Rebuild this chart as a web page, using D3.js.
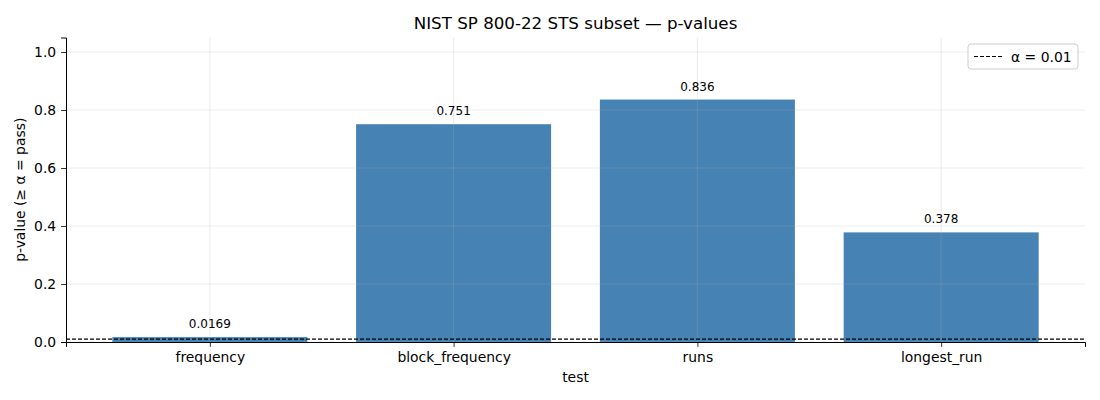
<!DOCTYPE html>
<html>
<head>
<meta charset="utf-8">
<script src="https://cdn.jsdelivr.net/npm/d3@7"></script>
<style>
  body { margin: 0; background: #fff; }
  text { font-family: "DejaVu Sans", sans-serif; }
</style>
</head>
<body>
<div id="chart"></div>
<script>
// data
const tests = ["frequency", "block_frequency", "runs", "longest_run"];
const pvalues = [0.0169, 0.751, 0.836, 0.378];
const pLabels = ["0.0169", "0.751", "0.836", "0.378"];
const yTicks = [0.0, 0.2, 0.4, 0.6, 0.8, 1.0];
const alpha = 0.01;

const W = 1100, H = 400;
const margin = {top: 37.5, right: 15, bottom: 58, left: 66};
const width = W - margin.left - margin.right,
      height = H - margin.top - margin.bottom;

const svg = d3.select("#chart").append("svg")
  .attr("width", W).attr("height", H);

const g = svg.append("g")
  .attr("transform", "translate(" + margin.left + "," + margin.top + ")");

// matplotlib-ish: bars of width 0.8, 5% margins
const x = d3.scaleLinear().domain([-0.59, tests.length - 1 + 0.59]).range([0, width]);
const y = d3.scaleLinear().domain([0, 1.05]).range([height, 0]);
const barW = x(0.8) - x(0);

// bars
g.selectAll("rect.bar")
  .data(pvalues)
  .enter().append("rect")
  .attr("class", "bar")
  .attr("x", (d, i) => x(i) - barW / 2)
  .attr("width", barW)
  .attr("y", d => y(d))
  .attr("height", d => y(0) - y(d))
  .attr("fill", "#4682b4");

// grid on top of bars
const grid = g.append("g").attr("stroke", "#b0b0b0").attr("stroke-opacity", 0.3).attr("stroke-width", 0.8);
grid.selectAll("line.h").data(yTicks).enter().append("line")
  .attr("x1", 0).attr("x2", width)
  .attr("y1", d => y(d)).attr("y2", d => y(d));
grid.selectAll("line.v").data(tests).enter().append("line")
  .attr("y1", 0).attr("y2", height)
  .attr("x1", (d, i) => x(i)).attr("x2", (d, i) => x(i));

// alpha threshold
g.append("line")
  .attr("x1", 0).attr("x2", width)
  .attr("y1", y(alpha)).attr("y2", y(alpha))
  .attr("stroke", "#000").attr("stroke-width", 1.2)
  .attr("stroke-dasharray", "4,2");

// value labels
g.selectAll("text.val")
  .data(pvalues)
  .enter().append("text")
  .attr("class", "val")
  .attr("x", (d, i) => x(i))
  .attr("y", d => y(d) - 9)
  .attr("text-anchor", "middle")
  .attr("font-size", 12)
  .attr("fill", "#000")
  .text((d, i) => pLabels[i]);

// axes
const xAxis = g.append("g")
  .attr("transform", "translate(0," + height + ")")
  .call(d3.axisBottom(x).tickValues(d3.range(tests.length)).tickFormat(i => tests[i]).tickSizeOuter(0).tickSize(4.9).tickPadding(4.9));
const yAxis = g.append("g")
  .call(d3.axisLeft(y).tickValues(yTicks).tickFormat(d3.format(".1f")).tickSizeOuter(0).tickSize(4.9).tickPadding(4.9));

[xAxis, yAxis].forEach(a => {
  a.selectAll("text").attr("font-size", 13.9).attr("fill", "#000").style("font-family", "DejaVu Sans, sans-serif");
  a.selectAll("line").attr("stroke", "#000").attr("stroke-width", 0.8);
  a.select(".domain").attr("stroke", "#000").attr("stroke-width", 1);
});

// axis labels and title
svg.append("text")
  .attr("x", margin.left + width / 2).attr("y", 382)
  .attr("text-anchor", "middle").attr("font-size", 13.9)
  .text("test");
svg.append("text")
  .attr("transform", "translate(25," + (margin.top + height / 2) + ") rotate(-90)")
  .attr("text-anchor", "middle").attr("font-size", 13.9)
  .text("p-value (≥ α = pass)");
svg.append("text")
  .attr("x", margin.left + width / 2).attr("y", 29)
  .attr("text-anchor", "middle").attr("font-size", 16.7)
  .text("NIST SP 800-22 STS subset — p-values");

// legend
const lg = svg.append("g").attr("transform", "translate(968,44)");
lg.append("rect")
  .attr("width", 110).attr("height", 25).attr("rx", 3)
  .attr("fill", "#fff").attr("fill-opacity", 0.8)
  .attr("stroke", "#cccccc").attr("stroke-width", 1);
lg.append("line")
  .attr("x1", 6).attr("x2", 34).attr("y1", 12.5).attr("y2", 12.5)
  .attr("stroke", "#000").attr("stroke-width", 1.2).attr("stroke-dasharray", "4,2");
lg.append("text")
  .attr("x", 43).attr("y", 17.5).attr("font-size", 13.9)
  .text("α = " + alpha);
</script>
</body>
</html>
